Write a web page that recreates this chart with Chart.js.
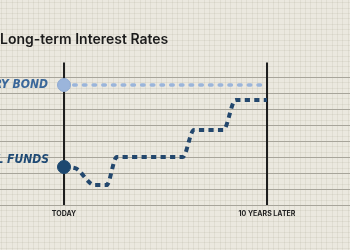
<!DOCTYPE html>
<html>
<head>
<meta charset="utf-8">
<script src="https://cdn.jsdelivr.net/npm/chart.js@4/dist/chart.umd.min.js"></script>
<style>
  html, body { margin: 0; padding: 0; background: #ebe8df; }
  #wrap { width: 350px; height: 250px; position: relative; }
</style>
</head>
<body>
<div id="wrap"><canvas id="c" width="350" height="250"></canvas></div>
<script>
// ---- data ----
const titleText = "Long-term Interest Rates";
const seriesNames = ["TREASURY BOND", "FEDERAL FUNDS"];
const xTickValues = [0, 10];
const xTickLabels = ["TODAY", "10 YEARS LATER"];
const yGridValues = [0, 1, 2, 3, 4, 5, 6, 7, 8];
const bondYears = [0, 10];
const bondRates = [7.5, 7.5];
const fedYears = [0, 0.55, 1.5, 2.1, 2.6, 5.85, 6.4, 7.85, 8.45, 10];
const fedRates = [2.375, 2.3, 1.25, 1.25, 3.0, 3.0, 4.69, 4.69, 6.56, 6.56];

const toPts = (xs, ys) => xs.map((x, i) => ({ x: x, y: ys[i] }));

const paperPlugin = {
  id: 'paper',
  beforeDraw(chart) {
    const ctx = chart.ctx;
    ctx.save();
    ctx.fillStyle = '#ebe8df';
    ctx.fillRect(0, 0, chart.width, chart.height);
    ctx.strokeStyle = 'rgba(120,110,90,0.09)';
    ctx.lineWidth = 1;
    const step = 16 / 3;
    ctx.beginPath();
    for (let x = 1; x < chart.width; x += step) {
      const px = Math.round(x) + 0.5;
      ctx.moveTo(px, 0); ctx.lineTo(px, chart.height);
    }
    for (let y = 205 % step; y < chart.height; y += step) {
      const py = Math.round(y) + 0.5;
      ctx.moveTo(0, py); ctx.lineTo(chart.width, py);
    }
    ctx.stroke();
    ctx.restore();
  },
  beforeDatasetsDraw(chart) {
    const ctx = chart.ctx;
    const xs = chart.scales.x, ys = chart.scales.y;
    ctx.save();
    // vertical markers
    ctx.strokeStyle = '#1e1e1e';
    ctx.lineWidth = 2;
    const top = ys.getPixelForValue(8.9);
    const bottom = ys.getPixelForValue(0);
    xTickValues.forEach(v => {
      const px = xs.getPixelForValue(v);
      ctx.beginPath();
      ctx.moveTo(px, top);
      ctx.lineTo(px, bottom);
      ctx.stroke();
    });
    // x labels
    ctx.fillStyle = '#222';
    ctx.font = '700 7px Inter, "DejaVu Sans", sans-serif';
    ctx.textAlign = 'center';
    ctx.textBaseline = 'middle';
    xTickValues.forEach((v, i) => {
      ctx.fillText(xTickLabels[i], xs.getPixelForValue(v), bottom + 9);
    });
    // title
    ctx.fillStyle = '#1c1c1c';
    ctx.font = '600 14px Inter, "Open Sans", sans-serif';
    ctx.textAlign = 'left';
    ctx.fillText(titleText, 0, 40);
    // series labels
    ctx.font = 'italic 600 12px "DejaVu Sans Condensed", "DejaVu Sans", sans-serif';
    ctx.textAlign = 'right';
    ctx.fillStyle = '#3a679a';
    ctx.fillText(seriesNames[0], 48, ys.getPixelForValue(bondRates[0]));
    ctx.fillStyle = '#1f4a75';
    ctx.fillText(seriesNames[1], 49, ys.getPixelForValue(fedRates[0]) - 7);
    ctx.restore();
  }
};

new Chart(document.getElementById('c'), {
  type: 'line',
  data: {
    datasets: [
      {
        label: seriesNames[0],
        data: toPts(bondYears, bondRates),
        borderColor: '#9bb5db',
        borderWidth: 3.5,
        borderDash: [2.5, 7.2],
        borderCapStyle: 'round',
        pointRadius: [6.5, 0],
        pointBackgroundColor: '#9bb5db',
        pointBorderColor: '#8eaad2',
        pointBorderWidth: 1,
        order: 2
      },
      {
        label: seriesNames[1],
        data: toPts(fedYears, fedRates),
        borderColor: '#23476d',
        borderWidth: 4,
        borderDash: [5.2, 4.3],
        borderCapStyle: 'butt',
        cubicInterpolationMode: 'monotone',
        pointRadius: fedYears.map((_, i) => i === 0 ? 6.5 : 0),
        pointBackgroundColor: '#1d4870',
        pointBorderColor: '#1d4870',
        pointBorderWidth: 1,
        order: 1
      }
    ]
  },
  options: {
    responsive: false,
    animation: false,
    devicePixelRatio: 1,
    layout: { padding: 0, autoPadding: false },
    plugins: { legend: { display: false }, tooltip: { enabled: false }, title: { display: false } },
    elements: { line: { fill: false } },
    scales: {
      x: {
        type: 'linear',
        display: false,
        min: -64 / 20.3,
        max: (350 - 64) / 20.3
      },
      y: {
        type: 'linear',
        display: true,
        min: -45 / 16,
        max: 205 / 16,
        afterBuildTicks: (scale) => { scale.ticks = yGridValues.map(v => ({ value: v })); },
        ticks: { display: false },
        border: { display: false },
        grid: { color: '#a8a59b', lineWidth: 1, drawTicks: false }
      }
    }
  },
  plugins: [paperPlugin]
});
</script>
</body>
</html>
